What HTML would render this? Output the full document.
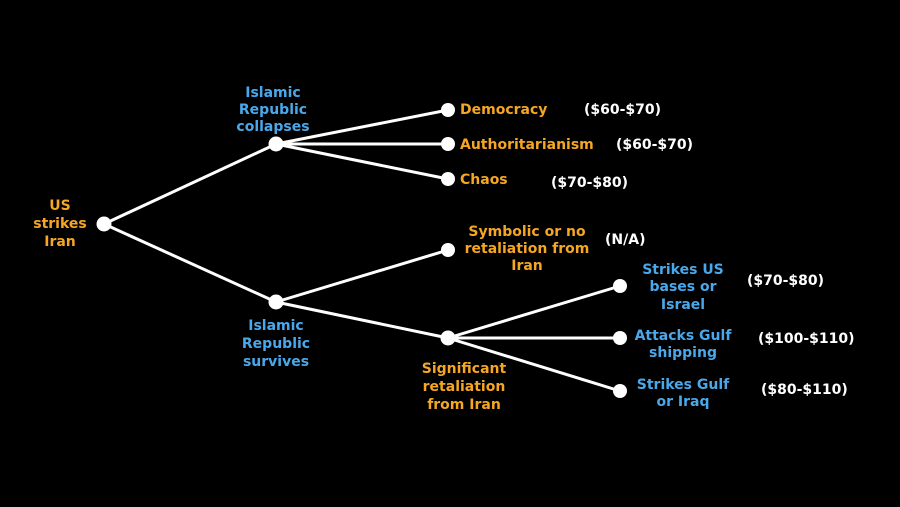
<!DOCTYPE html>
<html><head><style>
html,body{margin:0;padding:0;background:#000;}
svg{display:block}
text{font-family:"DejaVu Sans","Liberation Sans",sans-serif;font-weight:bold;font-size:14px}
.o{fill:#f5a623}.b{fill:#4aa8ea}.w{fill:#fff}
</style></head><body>
<svg width="900" height="507" viewBox="0 0 900 507">
<rect width="900" height="507" fill="#000"/>
<g stroke="#fff" stroke-width="3" fill="none">
<line x1="104" y1="224" x2="276" y2="144"/>
<line x1="104" y1="224" x2="276" y2="302"/>
<line x1="276" y1="144" x2="448" y2="110"/>
<line x1="276" y1="144" x2="448" y2="144"/>
<line x1="276" y1="144" x2="448" y2="179"/>
<line x1="276" y1="302" x2="448" y2="250"/>
<line x1="276" y1="302" x2="448" y2="338"/>
<line x1="448" y1="338" x2="620" y2="286"/>
<line x1="448" y1="338" x2="620" y2="338"/>
<line x1="448" y1="338" x2="620" y2="391"/>
</g>
<g fill="#fff">
<circle cx="104" cy="224" r="7.5"/><circle cx="276" cy="144" r="7.5"/><circle cx="276" cy="302" r="7.5"/>
<circle cx="448" cy="110" r="7"/><circle cx="448" cy="144" r="7"/><circle cx="448" cy="179" r="7"/>
<circle cx="448" cy="250" r="7"/><circle cx="448" cy="338" r="7.5"/>
<circle cx="620" cy="286" r="7"/><circle cx="620" cy="338" r="7"/><circle cx="620" cy="391" r="7"/>
</g>
<g text-anchor="middle">
<text class="o" x="60" y="210">US</text><text class="o" x="60" y="228">strikes</text><text class="o" x="60" y="246">Iran</text>
<text class="b" x="273" y="97">Islamic</text><text class="b" x="273" y="114">Republic</text><text class="b" x="273" y="131">collapses</text>
<text class="b" x="276" y="330">Islamic</text><text class="b" x="276" y="348">Republic</text><text class="b" x="276" y="366">survives</text>
<text class="o" x="527" y="236">Symbolic or no</text><text class="o" x="527" y="253">retaliation from</text><text class="o" x="527" y="270">Iran</text>
<text class="o" x="464" y="373">Significant</text><text class="o" x="464" y="391">retaliation</text><text class="o" x="464" y="409">from Iran</text>
<text class="b" x="683" y="274">Strikes US</text><text class="b" x="683" y="291">bases or</text><text class="b" x="683" y="309">Israel</text>
<text class="b" x="683" y="340">Attacks Gulf</text><text class="b" x="683" y="357">shipping</text>
<text class="b" x="683" y="389">Strikes Gulf</text><text class="b" x="683" y="406">or Iraq</text>
</g>
<text class="o" x="460" y="114">Democracy</text>
<text class="o" x="460" y="149">Authoritarianism</text>
<text class="o" x="460" y="184">Chaos</text>
<text class="w" x="584" y="114">($60-$70)</text>
<text class="w" x="616" y="149">($60-$70)</text>
<text class="w" x="551" y="187">($70-$80)</text>
<text class="w" x="605" y="244">(N/A)</text>
<text class="w" x="747" y="285">($70-$80)</text>
<text class="w" x="758" y="343">($100-$110)</text>
<text class="w" x="761" y="394">($80-$110)</text>
</svg>
</body></html>
